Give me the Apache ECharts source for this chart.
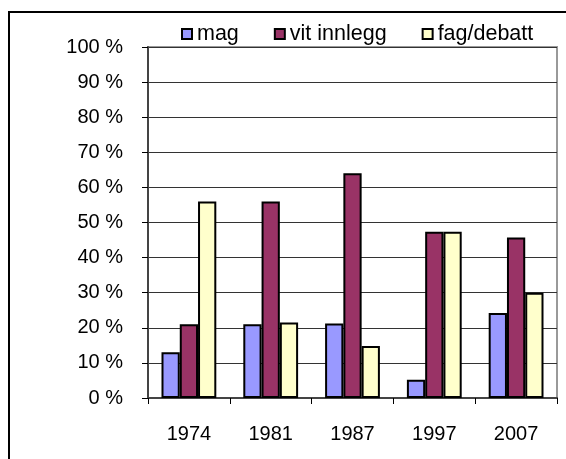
<!DOCTYPE html>
<html>
<head>
<meta charset="utf-8">
<script src="https://cdn.jsdelivr.net/npm/echarts@6/dist/echarts.min.js"></script>
<style>
  html, body { margin: 0; padding: 0; background: #fff; }
  #chart { width: 566px; height: 459px; }
</style>
</head>
<body>
<div id="chart"></div>
<script>
let years = ['1974', '1981', '1987', '1997', '2007'];
let magData = [13, 21, 21.2, 5.2, 24.2];
let vitData = [21, 56, 64, 47.4, 45.7];
let fagData = [56, 21.5, 14.8, 47.4, 30];
let yTicks = [0, 100, 10]; // min, max, step

let font = 'Liberation Sans, Arial, sans-serif';
let myChart = echarts.init(document.getElementById('chart'));

let barSeries = function (name, data, color) {
    return {
        name: name,
        type: 'bar',
        data: data,
        barGap: '0%',
        barCategoryGap: '33%',
        itemStyle: {
            color: color,
            borderColor: '#000',
            borderWidth: 2
        }
    };
};

let option = {
    animation: false,
    backgroundColor: '#fff',
    textStyle: { fontFamily: font },
    graphic: [
        {
            type: 'rect',
            shape: { x: 9, y: 12, width: 700, height: 600 },
            style: { fill: 'none', stroke: '#000', lineWidth: 2 },
            silent: true
        }
    ],
    legend: {
        left: 176,
        top: 18,
        itemWidth: 10,
        itemHeight: 10,
        itemGap: 35,
        icon: 'rect',
        textStyle: { fontSize: 21.5, color: '#000', fontFamily: font },
        data: ['mag', 'vit innlegg', 'fag/debatt']
    },
    grid: {
        left: 148,
        top: 47,
        right: 9,
        bottom: 61,
        show: true,
        borderColor: '#999',
        borderWidth: 2
    },
    xAxis: {
        type: 'category',
        data: years,
        axisLine: { lineStyle: { color: '#444', width: 2 } },
        axisTick: { show: true, length: 6, lineStyle: { color: '#000' } },
        axisLabel: { color: '#000', fontSize: 20, fontFamily: font, margin: 26 },
        splitLine: { show: false }
    },
    yAxis: {
        type: 'value',
        min: yTicks[0],
        max: yTicks[1],
        interval: yTicks[2],
        axisLine: { show: true, lineStyle: { color: '#444', width: 2 } },
        axisTick: { show: true, length: 6, lineStyle: { color: '#000' } },
        axisLabel: { color: '#000', fontSize: 20, fontFamily: font, margin: 25, formatter: '{value} %' },
        splitLine: { show: true, lineStyle: { color: '#333', width: 1 } }
    },
    series: [
        barSeries('mag', magData, '#9999FF'),
        barSeries('vit innlegg', vitData, '#993366'),
        barSeries('fag/debatt', fagData, '#FFFFCC')
    ]
};
myChart.setOption(option);
</script>
</body>
</html>
